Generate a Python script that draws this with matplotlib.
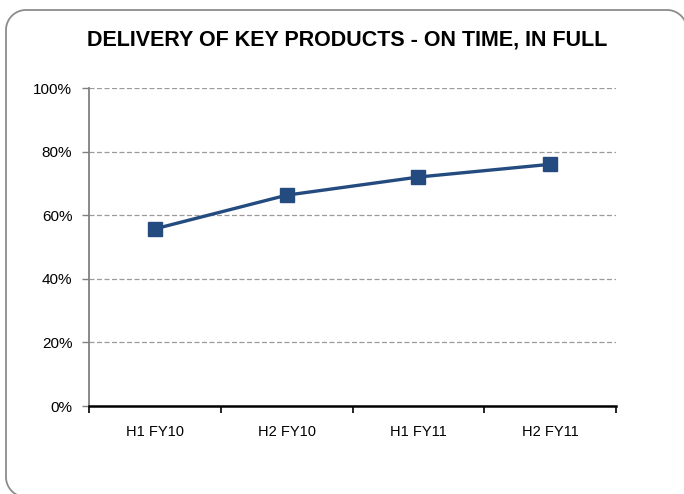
#!/usr/bin/env python
import matplotlib
matplotlib.use('Agg')
import matplotlib.pyplot as plt
import matplotlib.transforms as mtransforms
import numpy as np
from matplotlib.ticker import FuncFormatter

# dados
periodos = ['H1 FY10', 'H2 FY10', 'H1 FY11', 'H2 FY11']
entrega_ok = [55.7, 66.3, 72.0, 76.0]
y_ticks = [0, 20, 40, 60, 80, 100]
titulo = 'DELIVERY OF KEY PRODUCTS - ON TIME, IN FULL'

plt.rcParams['font.family'] = ['Liberation Sans', 'DejaVu Sans']

W, H = 684, 494
fig = plt.figure(figsize=(W / 100, H / 100), dpi=100)

# moldura arredondada (coordenadas em pixels, y a partir de baixo)
px = mtransforms.Affine2D().scale(1 / W, 1 / H) + fig.transFigure
x0, x1, y0, y1, r = 6, 687, -3, H - 10, 20
t = np.linspace(0, np.pi / 2, 30)
xs = np.concatenate([[x0 + r + 30], x0 + r - r * np.sin(t),
                     x0 + r - r * np.cos(t), x1 - r + r * np.sin(t), [x1]])
ys = np.concatenate([[y0], y0 + r - r * np.cos(t),
                     y1 - r + r * np.sin(t), y1 - r + r * np.cos(t), [y0]])
fig.add_artist(plt.Line2D(xs, ys, transform=px, color='#8c8c8c', linewidth=1.3))

ax = fig.add_axes([89 / W, 88 / H, (616 - 89) / W, (406 - 88) / H])

x = list(range(len(periodos)))
ax.plot(x, entrega_ok, color='#244b7f', linewidth=2.4, marker='s',
        markersize=10, zorder=3)

ax.set_xlim(-0.5, len(periodos) - 0.5)
ax.set_ylim(0, 100)
ax.set_yticks(y_ticks)
ax.yaxis.set_major_formatter(FuncFormatter(lambda v, p: '%d%%' % v))
ax.grid(axis='y', linestyle=(0, (4, 2)), color='#9a9a9a', linewidth=0.9)
ax.set_axisbelow(True)

ax.set_xticks(x)
ax.set_xticklabels(periodos, fontsize=10.5)
ax.set_xticks([i - 0.5 for i in range(len(periodos) + 1)], minor=True)
ax.tick_params(axis='x', which='major', length=0, pad=14)
ax.tick_params(axis='x', which='minor', length=5, width=1.2, color='black', direction='out')
ax.tick_params(axis='y', length=5, width=1, color='#808080', labelsize=11, pad=7)

for lado in ['top', 'right']:
    ax.spines[lado].set_visible(False)
ax.spines['left'].set_color('#808080')
ax.spines['left'].set_linewidth(1.3)
ax.spines['bottom'].set_color('black')
ax.spines['bottom'].set_linewidth(1.8)

fig.text(347 / W, 1 - 40 / H, titulo, ha='center', va='center',
         fontsize=15.5, fontweight='bold')

fig.savefig('out.png', dpi=100)
